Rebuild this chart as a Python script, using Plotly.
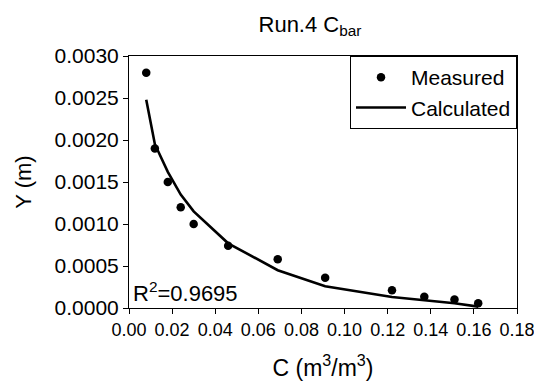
import plotly.graph_objects as go

# Data
c_measured = [0.008, 0.012, 0.018, 0.024, 0.030, 0.046, 0.069, 0.091, 0.122, 0.137, 0.151, 0.162]
y_measured = [0.00280, 0.00190, 0.00150, 0.00120, 0.00100, 0.00074, 0.00058, 0.00036, 0.00021, 0.000135, 0.00010, 0.000056]
c_calculated = [0.008, 0.012, 0.018, 0.024, 0.030, 0.046, 0.069, 0.091, 0.122, 0.137, 0.151, 0.162]
y_calculated = [0.00248, 0.00195, 0.00162, 0.00135, 0.00115, 0.00077, 0.00045, 0.00026, 0.00013, 0.000095, 0.000056, 0.000016]

x_ticks = [0.00, 0.02, 0.04, 0.06, 0.08, 0.10, 0.12, 0.14, 0.16, 0.18]
y_ticks = [0.0000, 0.0005, 0.0010, 0.0015, 0.0020, 0.0025, 0.0030]

FONT = "Liberation Sans, Arial, sans-serif"

fig = go.Figure()
fig.add_trace(go.Scatter(
    x=c_measured, y=y_measured, mode="markers", name="Measured",
    marker=dict(color="black", size=8.5, symbol="circle"),
))
fig.add_trace(go.Scatter(
    x=c_calculated, y=y_calculated, mode="lines", name="Calculated",
    line=dict(color="black", width=2.6),
))

fig.update_layout(
    width=534, height=381,
    margin=dict(l=129, r=17, t=56, b=73, autoexpand=False),
    paper_bgcolor="white", plot_bgcolor="white",
    font=dict(family=FONT, color="black"),
    title=dict(text="Run.4 C<sub>bar</sub>", x=310 / 534, xanchor="center",
               y=1 - 24 / 381, yanchor="middle",
               font=dict(size=22, family=FONT, color="black")),
    showlegend=True,
    legend=dict(x=1, y=1, xanchor="right", yanchor="top",
                bordercolor="black", borderwidth=1, bgcolor="white",
                font=dict(size=21, family=FONT, color="black"),
                itemwidth=50, tracegroupgap=0),
    xaxis=dict(range=[0, 0.18], tickvals=x_ticks, tickformat=".2f",
               ticks="outside", ticklen=5, tickcolor="black",
               ticklabeloverflow="allow",
               showline=True, linecolor="black", linewidth=1, mirror=True,
               showgrid=False, zeroline=False,
               tickfont=dict(size=18, family=FONT, color="black"),
               title=dict(text="C (m<sup>3</sup>/m<sup>3</sup>)",
                          font=dict(size=23, family=FONT, color="black"), standoff=22)),
    yaxis=dict(range=[0, 0.003], tickvals=y_ticks, tickformat=".4f",
               ticks="outside", ticklen=5, tickcolor="black",
               ticklabeloverflow="allow",
               showline=True, linecolor="black", linewidth=1, mirror=True,
               showgrid=False, zeroline=False,
               tickfont=dict(size=21, family=FONT, color="black"),
               title=dict(text="Y (m)", font=dict(size=22, family=FONT, color="black"),
                          standoff=16)),
    annotations=[dict(text="R<sup>2</sup>=0.9695", xref="paper", yref="paper",
                      x=0.005, y=0.0, xanchor="left", yanchor="bottom",
                      showarrow=False, font=dict(size=22, family=FONT, color="black"))],
)

fig.write_html("out.html")
